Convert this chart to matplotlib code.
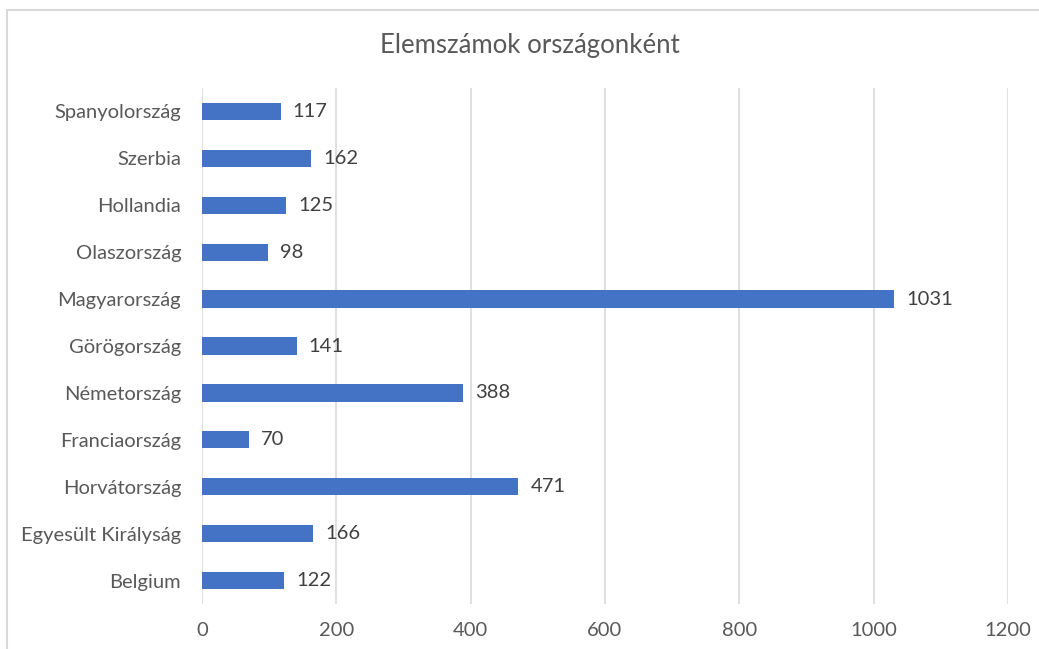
import matplotlib
matplotlib.use('Agg')
import matplotlib.pyplot as plt
from matplotlib.patches import Rectangle

plt.rcParams['font.family'] = ['Lato', 'DejaVu Sans']

# Data (bottom to top)
countries = ['Belgium', 'Egyesült Királyság', 'Horvátország', 'Franciaország',
             'Németország', 'Görögország', 'Magyarország', 'Olaszország',
             'Hollandia', 'Szerbia', 'Spanyolország']
counts = [122, 166, 471, 70, 388, 141, 1031, 98, 125, 162, 117]
xticks = [0, 200, 400, 600, 800, 1000, 1200]

BAR_COLOR = '#4472C4'
GRID_COLOR = '#D9D9D9'
TEXT_COLOR = '#595959'
LABEL_COLOR = '#404040'

fig = plt.figure(figsize=(10.39, 6.49), dpi=100)
ax = fig.add_axes([202 / 1039, 1 - 604 / 649, 806 / 1039, 516 / 649])

# Chart border (cut off at right and bottom)
fig.patches.append(Rectangle((7 / 1039, -0.1), 1.2, 1 - 10 / 649 + 0.1,
                             transform=fig.transFigure, fill=False,
                             edgecolor=GRID_COLOR, linewidth=1.5))

ypos = range(len(countries))
ax.barh(ypos, counts, height=0.37, color=BAR_COLOR, zorder=3)

for y, v in zip(ypos, counts):
    ax.text(v + 18, y, str(v), va='center', ha='left',
            fontsize=14.5, color=LABEL_COLOR)

ax.set_xlim(0, 1200)
ax.set_ylim(-0.5, len(countries) - 0.5)
ax.set_xticks(xticks)
ax.set_xticklabels([str(t) for t in xticks])
ax.set_yticks(list(ypos))
ax.set_yticklabels(countries)

ax.grid(axis='x', color=GRID_COLOR, linewidth=1.2, zorder=0)
for s in ax.spines.values():
    s.set_visible(False)
ax.tick_params(axis='both', length=0, labelsize=14.5, colors=TEXT_COLOR)
ax.tick_params(axis='x', pad=13)
ax.tick_params(axis='y', pad=15)

fig.text(530 / 1039, 1 - 46 / 649, 'Elemszámok országonként',
         ha='center', va='center', fontsize=18.5, color=TEXT_COLOR)

fig.savefig('out.png', dpi=100)
